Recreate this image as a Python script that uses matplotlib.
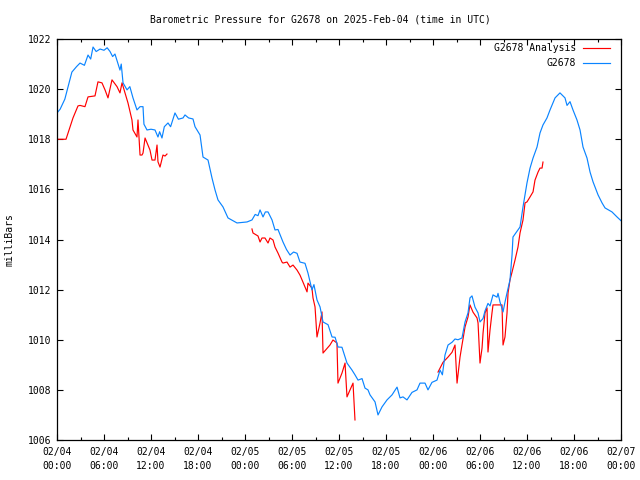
import numpy as np
import pandas as pd
import matplotlib
matplotlib.use("Agg")
import matplotlib.pyplot as plt
import matplotlib.dates as mdates
from matplotlib.lines import Line2D

plt.rcParams['font.family'] = ['DejaVu Sans Mono']

title = "Barometric Pressure for G2678 on 2025-Feb-04 (time in UTC)"
start = "2025-02-04 00:00"
end = "2025-02-07 00:00"

# G2678 observed (hours since 2025-02-04 00:00 UTC, millibars)
obs_hours = [0.0, 0.4, 1.0, 1.9, 2.5, 2.94, 3.5, 3.96, 4.3, 4.6, 5.0, 5.5, 6.0, 6.4, 6.77,
             7.1, 7.4, 7.7, 8.04, 8.2, 8.43, 8.94, 9.3, 9.7, 10.21, 10.6, 10.98, 11.1, 11.49,
             12.0, 12.51, 12.89, 13.1, 13.4, 13.7, 14.17, 14.5, 15.06, 15.5, 16.09, 16.34,
             16.8, 17.36, 17.62, 18.26, 18.64, 19.28, 19.79, 20.17, 20.55, 21.19, 21.83,
             22.98, 24.26, 24.89, 25.3, 25.66, 25.92, 26.3, 26.6, 26.94, 27.45, 27.83, 28.21,
             28.85, 29.3, 29.75, 30.2, 30.64, 31.02, 31.66, 32.04, 32.55, 32.8, 33.19, 33.58,
             33.96, 34.6, 35.11, 35.5, 35.87, 36.38, 37.02, 37.41, 37.66, 38.04, 38.43, 38.94,
             39.32, 39.7, 39.96, 40.6, 40.98, 41.49, 42.13, 42.77, 43.41, 43.79, 44.17, 44.68,
             45.32, 45.96, 46.34, 46.98, 47.36, 47.87, 48.51, 48.9, 49.2, 49.53, 49.92, 50.43,
             50.81, 51.19, 51.7, 52.09, 52.47, 52.72, 52.98, 53.36, 53.75, 54.0, 54.39, 54.64,
             55.02, 55.28, 55.66, 56.17, 56.3, 56.56, 56.94, 57.19, 57.45, 57.83, 58.09, 58.21,
             59.11, 59.49, 59.75, 60.0, 60.39, 60.77, 61.28, 61.66, 62.04, 62.55, 62.94, 63.32,
             63.58, 64.21, 64.85, 65.11, 65.49, 65.87, 66.38, 66.77, 67.15, 67.66, 68.05, 68.43,
             69.07, 69.58, 69.96, 70.85, 71.49, 72.0]
obs_mb = [1019.05, 1019.2, 1019.6, 1020.68, 1020.9, 1021.04, 1020.95, 1021.36, 1021.2, 1021.68,
          1021.5, 1021.6, 1021.55, 1021.65, 1021.5, 1021.3, 1021.4, 1021.1, 1020.76, 1021.0,
          1020.25, 1019.97, 1020.1, 1019.65, 1019.17, 1019.3, 1019.3, 1018.6, 1018.37, 1018.4,
          1018.37, 1018.09, 1018.3, 1018.05, 1018.5, 1018.65, 1018.5, 1019.05, 1018.8, 1018.85,
          1018.97, 1018.85, 1018.81, 1018.5, 1018.17, 1017.29, 1017.17, 1016.45, 1015.98,
          1015.58, 1015.3, 1014.86, 1014.66, 1014.7, 1014.78, 1015.0, 1014.95, 1015.18, 1014.9,
          1015.1, 1015.1, 1014.78, 1014.38, 1014.4, 1013.9, 1013.6, 1013.38, 1013.5, 1013.45,
          1013.1, 1013.05, 1012.66, 1011.99, 1012.2, 1011.59, 1011.31, 1010.71, 1010.6, 1010.11,
          1010.1, 1009.71, 1009.7, 1009.07, 1008.9, 1008.79, 1008.6, 1008.39, 1008.45, 1008.07,
          1008.0, 1007.8, 1007.52, 1007.0, 1007.32, 1007.6, 1007.8, 1008.11, 1007.68, 1007.72,
          1007.6, 1007.9, 1008.0, 1008.27, 1008.27, 1008.0, 1008.3, 1008.39, 1008.79, 1008.6,
          1009.39, 1009.79, 1009.9, 1010.03, 1010.0, 1010.07, 1010.71, 1011.07, 1011.67, 1011.75,
          1011.3, 1011.07, 1010.71, 1010.85, 1011.15, 1011.45, 1011.35, 1011.79, 1011.7, 1011.85,
          1011.5, 1011.11, 1011.5, 1011.87, 1012.39, 1013.38, 1014.1, 1014.5, 1015.3, 1015.78,
          1016.26, 1016.85, 1017.25, 1017.69, 1018.25, 1018.57, 1018.85, 1019.17, 1019.45,
          1019.65, 1019.85, 1019.65, 1019.35, 1019.5, 1019.17, 1018.77, 1018.37, 1017.69,
          1017.25, 1016.69, 1016.3, 1015.78, 1015.46, 1015.26, 1015.1, 1014.9, 1014.75]

# G2678 Analysis (NaN marks gaps)
ana_hours = [0.0, 1.15, 2.04, 2.68, 2.94, 3.57, 3.96, 4.85, 5.23, 5.74, 6.13, 6.51, 7.02, 7.66,
             8.04, 8.3, 8.68, 9.06, 9.57, 9.7, 10.21, 10.34, 10.6, 10.85, 10.98, 11.24, 11.87,
             12.13, 12.51, 12.77, 12.89, 13.15, 13.53, 13.79, 14.04, 14.1,
             24.89, 25.02, 25.66, 25.92, 26.17, 26.55, 26.94, 27.19, 27.58, 27.83, 28.21, 28.72,
             28.85, 29.36, 29.75, 30.13, 30.64, 31.02, 31.4, 31.92, 32.04, 32.55, 32.68, 32.94,
             33.19, 33.58, 33.83, 33.96, 34.85, 35.23, 35.74, 35.87, 36.38, 36.77, 37.02, 37.41,
             37.79, 38.04, 38.1,
             48.64, 49.28, 49.92, 50.43, 50.81, 51.07, 51.45, 51.7, 52.09, 52.47, 52.72, 53.11,
             53.62, 53.75, 54.0, 54.26, 54.39, 54.64, 54.9, 55.02, 55.28, 55.53, 55.66, 56.81,
             56.94, 57.19, 57.45, 57.58, 57.83, 58.09, 58.47, 58.85, 59.11, 59.49, 59.75, 60.0,
             60.39, 60.77, 61.02, 61.41, 61.66, 61.92, 62.04]
ana_mb = [1018.0, 1018.0, 1018.85, 1019.33, 1019.35, 1019.3, 1019.69, 1019.73, 1020.29, 1020.25,
          1019.97, 1019.65, 1020.37, 1020.1, 1019.85, 1020.25, 1019.85, 1019.45, 1018.77,
          1018.37, 1018.09, 1018.77, 1017.37, 1017.37, 1017.45, 1018.05, 1017.57, 1017.17,
          1017.17, 1017.77, 1017.1, 1016.89, 1017.37, 1017.33, 1017.41, np.nan,
          1014.42, 1014.26, 1014.14, 1013.9, 1014.06, 1014.06, 1013.86, 1014.06, 1013.98,
          1013.7, 1013.46, 1013.1, 1013.06, 1013.1, 1012.9, 1012.98, 1012.78, 1012.58, 1012.3,
          1011.91, 1012.26, 1012.06, 1011.67, 1011.31, 1010.11, 1010.67, 1011.11, 1009.47,
          1009.79, 1009.99, 1009.87, 1008.27, 1008.67, 1009.07, 1007.72, 1008.0, 1008.27,
          1006.8, np.nan,
          1008.71, 1009.1, 1009.31, 1009.5, 1009.79, 1008.27, 1009.31, 1009.79, 1010.51,
          1010.91, 1011.39, 1011.1, 1010.87, 1010.67, 1009.07, 1009.67, 1010.27, 1011.07,
          1011.27, 1009.51, 1010.39, 1011.07, 1011.39, 1011.39, 1009.79, 1010.11, 1011.07,
          1011.87, 1012.39, 1012.7, 1013.18, 1013.7, 1014.26, 1014.78, 1015.46, 1015.5, 1015.7,
          1015.9, 1016.37, 1016.69, 1016.85, 1016.85, 1017.09]

yticks = [1006, 1008, 1010, 1012, 1014, 1016, 1018, 1020, 1022]
series_labels = ["G2678 Analysis", "G2678"]
series_colors = ["#ff0000", "#0a84ff"]

base = pd.Timestamp(start)
obs_t = base + pd.to_timedelta(obs_hours, unit="h")
ana_t = base + pd.to_timedelta(ana_hours, unit="h")

fig = plt.figure(figsize=(6.4, 4.8), dpi=100)
ax = fig.add_axes([57/640, 40/480, 564/640, 401/480])

ax.plot(ana_t, ana_mb, color=series_colors[0], lw=0.85)
ax.plot(obs_t, obs_mb, color=series_colors[1], lw=0.85)

ax.set_xlim(pd.Timestamp(start), pd.Timestamp(end))
ax.set_ylim(yticks[0], yticks[-1])
ax.set_yticks(yticks)
ax.xaxis.set_major_locator(mdates.HourLocator(byhour=[0, 6, 12, 18]))
ax.xaxis.set_minor_locator(mdates.HourLocator(byhour=[3, 9, 15, 21]))
ax.xaxis.set_major_formatter(mdates.DateFormatter("%m/%d\n%H:%M"))
ax.tick_params(which="both", direction="in", top=True, right=True, labelsize=7, colors="black")
ax.tick_params(which="major", length=4.5, width=0.8, pad=4)
ax.tick_params(which="minor", length=2.5, width=0.8)
ax.tick_params(axis="x", pad=5)
for lab in ax.get_xticklabels():
    lab.set_linespacing(1.5)
for s in ax.spines.values():
    s.set_linewidth(0.9)

ax.set_ylabel("milliBars", fontsize=7, labelpad=10)
fig.text(0.5, 1 - 20/480, title, ha="center", va="center", fontsize=7)

# legend (gnuplot style: right-aligned text, sample to the right)
for i, (lab, col) in enumerate(zip(series_labels, series_colors)):
    yy = 1 - (48 + 15*i) / 480
    fig.text(576/640, yy, lab, ha="right", va="center", fontsize=7)
    fig.add_artist(Line2D([583/640, 610/640], [yy, yy], color=col, lw=0.85,
                          transform=fig.transFigure))

fig.savefig("out.png", dpi=100)
